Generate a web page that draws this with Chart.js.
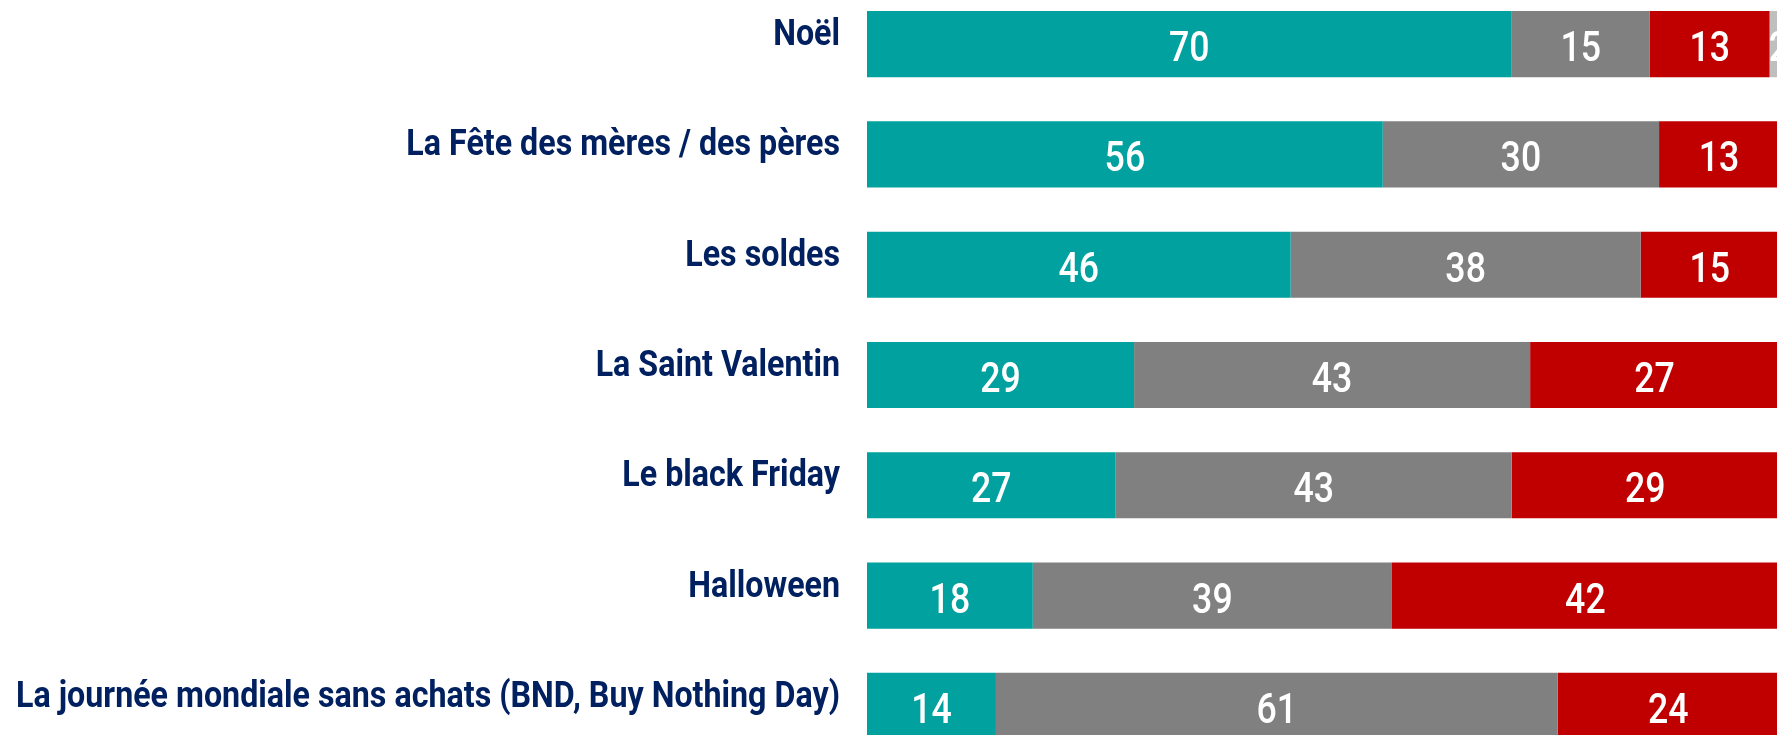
<!DOCTYPE html>
<html lang="fr">
<head>
<meta charset="utf-8">
<title>Occasions d'achat</title>
<script src="https://cdn.jsdelivr.net/npm/chart.js@4.4.1/dist/chart.umd.min.js"></script>
<style>
  html, body { margin: 0; padding: 0; background: #fff; overflow: hidden; }
  body { width: 1777px; height: 735px; position: relative; }
  #wrap { position: absolute; left: 0; top: -11px; width: 1788px; height: 772px; }
</style>
</head>
<body>
<div id="wrap"><canvas id="chart"></canvas></div>
<script>
const categories = [
  'Noël',
  'La Fête des mères / des pères',
  'Les soldes',
  'La Saint Valentin',
  'Le black Friday',
  'Halloween',
  'La journée mondiale sans achats (BND, Buy Nothing Day)'
];
const teal  = [70, 56, 46, 29, 27, 18, 14];
const gray  = [15, 30, 38, 43, 43, 39, 61];
const red   = [13, 13, 15, 27, 29, 42, 24];
const light = [2, 0, 0, 0, 0, 0, 0];

const FONT = "Roboto, 'DejaVu Sans', sans-serif";

// condensed text helper (narrows the glyphs for a DIN-condensed look)
function narrowText(ctx, text, x, y, align, squeeze) {
  ctx.save();
  ctx.translate(x, y);
  ctx.scale(squeeze, 1);
  ctx.textAlign = align;
  ctx.textBaseline = 'alphabetic';
  ctx.fillText(text, 0, 0);
  ctx.restore();
}

// ── category names on the left + values inside the segments ──
const textPlugin = {
  id: 'textPlugin',
  afterDatasetsDraw(chart) {
    const { ctx } = chart;
    const yScale = chart.scales.y;

    ctx.save();
    ctx.font = `bold 36px ${FONT}`;
    ctx.fillStyle = '#002060';
    chart.data.labels.forEach((lab, i) => {
      narrowText(ctx, lab, yScale.right - 27, yScale.getPixelForTick(i) + 1, 'right', 0.895);
    });

    ctx.font = `500 42px ${FONT}`;
    ctx.fillStyle = '#fff';
    chart.data.datasets.forEach((ds, i) => {
      chart.getDatasetMeta(i).data.forEach((bar, j) => {
        const v = ds.data[j];
        if (!v) return;
        narrowText(ctx, String(v), (bar.x + bar.base) / 2, bar.y + 17, 'center', 0.85);
      });
    });
    ctx.restore();
  }
};

const mkSet = (label, data, color) => ({
  label, data, backgroundColor: color, borderWidth: 0,
  barPercentage: 0.6, categoryPercentage: 1
});

new Chart(document.getElementById('chart'), {
  type: 'bar',
  data: {
    labels: categories,
    datasets: [
      mkSet('Oui', teal, '#00A19F'),
      mkSet('Non', gray, '#808080'),
      mkSet('Pas concerné', red, '#C00000'),
      mkSet('NSP', light, '#BFBFBF')
    ]
  },
  options: {
    indexAxis: 'y',
    responsive: true,
    maintainAspectRatio: false,
    animation: false,
    layout: { padding: 0 },
    plugins: { legend: { display: false }, tooltip: { enabled: false } },
    scales: {
      x: { stacked: true, display: false, min: 0, max: 100 },
      y: {
        stacked: true,
        grid: { display: false, drawTicks: false },
        border: { display: false },
        ticks: { display: false },
        afterFit(scale) {
          scale.width = 867;
          scale.paddingTop = 0;
          scale.paddingBottom = 0;
        }
      }
    }
  },
  plugins: [textPlugin]
});
</script>
</body>
</html>
